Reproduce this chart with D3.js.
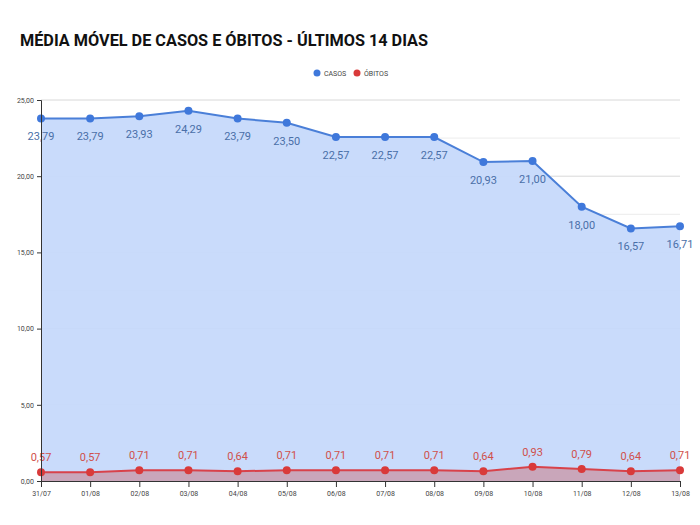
<!DOCTYPE html>
<html>
<head>
<meta charset="utf-8">
<script src="https://cdn.jsdelivr.net/npm/d3@7"></script>
<style>
  body { margin: 0; background: #fff; }
  text { font-family: Roboto, "Liberation Sans", sans-serif; }
</style>
</head>
<body>
<svg id="chart" width="700" height="525"></svg>
<script>
"use strict"

const days = ["31/07", "01/08", "02/08", "03/08", "04/08", "05/08", "06/08",
              "07/08", "08/08", "09/08", "10/08", "11/08", "12/08", "13/08"]
const casos = [23.79, 23.79, 23.93, 24.29, 23.79, 23.50, 22.57, 22.57, 22.57, 20.93, 21.00, 18.00, 16.57, 16.71]
const obitos = [0.57, 0.57, 0.71, 0.71, 0.64, 0.71, 0.71, 0.71, 0.71, 0.64, 0.93, 0.79, 0.64, 0.71]
const yTicks = [0, 5, 10, 15, 20, 25]

const svg = d3.select("#chart")
const fmt = v => v.toFixed(2).replace(".", ",")

const x = d3.scalePoint().domain(days).range([41, 680])
const y = d3.scaleLinear().domain([0, 25]).range([481, 100])

// minor + major gridlines
svg.append("g")
    .selectAll("line")
    .data(d3.range(0, 25.01, 2.5))
    .join("line")
    .attr("x1", 41).attr("x2", 680)
    .attr("y1", d => y(d)).attr("y2", d => y(d))
    .attr("stroke", d => d % 5 === 0 ? "#d8d8d8" : "#ececec")

const area = d3.area().x((d, i) => x(days[i])).y0(y(0)).y1(d => y(d))
const line = d3.line().x((d, i) => x(days[i])).y(d => y(d))

const series = [
    { values: casos, fill: "#c6d9fb", stroke: "#4a7fd8", dot: "#3f78db", label: "#4a6fa8", above: false },
    { values: obitos, fill: "#c9a3b6", stroke: "#d8424a", dot: "#d93a3a", label: "#d0504a", above: true },
]

for (const s of series) {
    svg.append("path").attr("d", area(s.values)).attr("fill", s.fill).attr("opacity", 0.95)
}
for (const s of series) {
    svg.append("path").attr("d", line(s.values))
        .attr("fill", "none").attr("stroke", s.stroke).attr("stroke-width", 2)
    svg.append("g").selectAll("circle")
        .data(s.values)
        .join("circle")
        .attr("cx", (d, i) => x(days[i])).attr("cy", d => y(d))
        .attr("r", 4).attr("fill", s.dot)
    svg.append("g").selectAll("text")
        .data(s.values)
        .join("text")
        .attr("x", (d, i) => x(days[i]))
        .attr("y", d => y(d) + (s.above ? -11 : 22))
        .attr("text-anchor", "middle")
        .attr("font-size", 11)
        .attr("fill", s.label)
        .text(fmt)
}

// axes
const yAxis = svg.append("g")
    .attr("transform", "translate(41,0)")
    .call(d3.axisLeft(y).tickValues(yTicks).tickSize(4).tickFormat(fmt))
yAxis.selectAll("text").attr("font-size", 7).attr("fill", "#444")
yAxis.selectAll("line, path").attr("stroke", "#333")

const xAxis = svg.append("g")
    .attr("transform", `translate(0,${y(0)})`)
    .call(d3.axisBottom(x).tickSize(6).tickPadding(4))
xAxis.select(".domain").attr("stroke", "#333")
xAxis.selectAll("line").attr("stroke", "#333")
xAxis.selectAll("text").attr("font-size", 7).attr("fill", "#444")

// title
svg.append("text")
    .attr("x", 20).attr("y", 46)
    .attr("font-size", 17).attr("font-weight", "bold").attr("fill", "#111")
    .attr("textLength", 408).attr("lengthAdjust", "spacingAndGlyphs")
    .text("MÉDIA MÓVEL DE CASOS E ÓBITOS - ÚLTIMOS 14 DIAS")

// legend
const legend = [["CASOS", "#3f78db", 317], ["ÓBITOS", "#d93a3a", 357]]
for (const [name, color, lx] of legend) {
    svg.append("circle").attr("cx", lx).attr("cy", 73).attr("r", 3.5).attr("fill", color)
    svg.append("text").attr("x", lx + 7).attr("y", 76)
        .attr("font-size", 7).attr("fill", "#444").text(name)
}
</script>
</body>
</html>
